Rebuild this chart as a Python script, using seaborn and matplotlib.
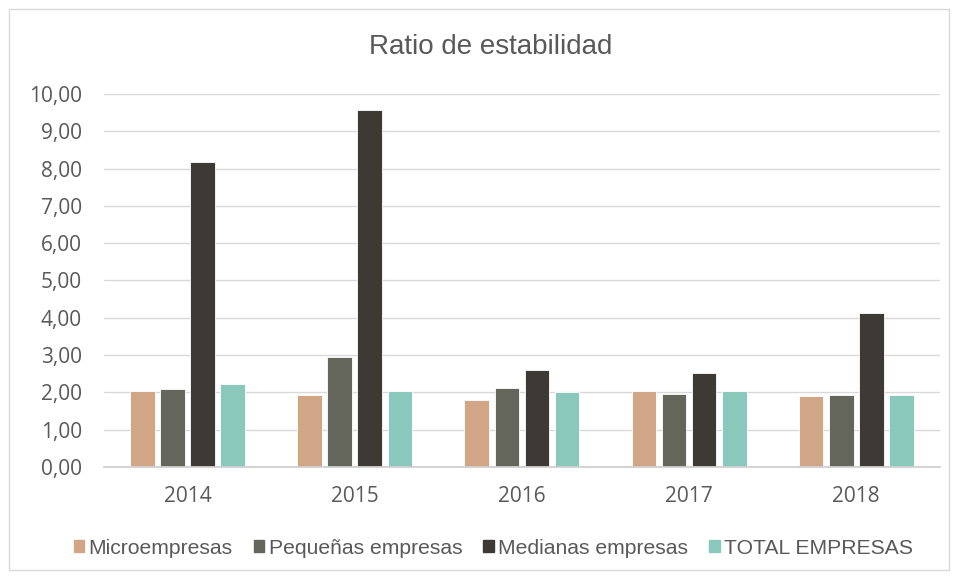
import seaborn as sns
import matplotlib.pyplot as plt
import matplotlib.ticker as mticker
from matplotlib.patches import Rectangle
import pandas as pd

years = ['2014', '2015', '2016', '2017', '2018']
series = ['Microempresas', 'Pequeñas empresas', 'Medianas empresas', 'TOTAL EMPRESAS']
micro = [2.05, 1.93, 1.80, 2.05, 1.91]
pequenas = [2.10, 2.95, 2.13, 1.97, 1.92]
medianas = [8.17, 9.57, 2.59, 2.51, 4.13]
total = [2.23, 2.03, 2.00, 2.04, 1.94]
colors = ['#D0A686', '#65665B', '#3D3A35', '#8AC8BC']

df = pd.DataFrame({'year': years * 4,
                   'serie': [s for s in series for _ in years],
                   'valor': micro + pequenas + medianas + total})

sns.set_style('white')
plt.rcParams['font.family'] = ['Liberation Sans', 'DejaVu Sans']

fig = plt.figure(figsize=(9.58, 5.79), dpi=100)
ax = fig.add_axes([0.1086, 0.1934, 0.8724, 0.6443])
sns.barplot(data=df, x='year', y='valor', hue='serie', palette=colors, saturation=1,
            width=0.72, gap=0.18, edgecolor='white', linewidth=0.6, ax=ax)

ax.set_ylim(0, 10)
ax.yaxis.set_major_locator(mticker.MultipleLocator(1))
ax.yaxis.set_major_formatter(mticker.FuncFormatter(lambda v, p: f'{v:.2f}'.replace('.', ',')))
ax.grid(axis='y', color='#d9d9d9', linewidth=1)
ax.set_axisbelow(True)
for s in ['top', 'right', 'left']:
    ax.spines[s].set_visible(False)
ax.spines['bottom'].set_color('#d0d0d0')
ax.spines['bottom'].set_linewidth(1.3)
ax.tick_params(axis='both', length=0, labelsize=15, colors='#595959')
ax.tick_params(axis='y', pad=16)
ax.tick_params(axis='x', pad=14)
for lab in ax.get_xticklabels() + ax.get_yticklabels():
    lab.set_family(['Open Sans', 'DejaVu Sans'])
ax.set_xlabel('')
ax.set_ylabel('')

fig.text(0.512, 0.918, 'Ratio de estabilidad', ha='center', va='center',
         fontsize=20, color='#595959')

ax.get_legend().remove()
handles = [Rectangle((0, 0), 1, 1, color=c) for c in colors]
fig.legend(handles, series, loc='center', bbox_to_anchor=(0.515, 0.053), ncol=4,
           frameon=False, fontsize=15.2, handlelength=0.5, handleheight=0.5,
           handletextpad=0.2, columnspacing=1.0, labelcolor='#595959')

fig.patches.append(Rectangle((0.0094, 0.0155), 0.981, 0.969, transform=fig.transFigure,
                             fill=False, edgecolor='#d9d9d9', linewidth=1))

fig.savefig('out.png', dpi=100)
